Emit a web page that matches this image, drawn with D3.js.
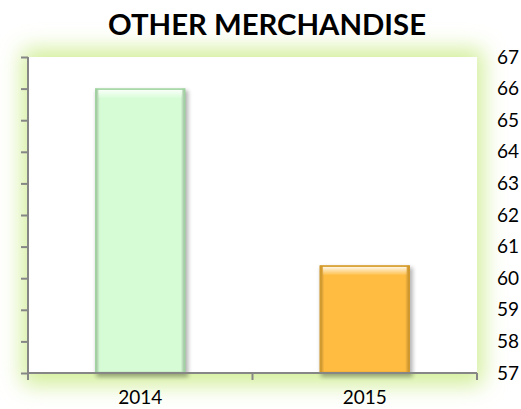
<!DOCTYPE html>
<html><head><meta charset="utf-8">
<script src="https://cdn.jsdelivr.net/npm/d3@7"></script>
<style>html,body{margin:0;padding:0;background:#fff;}svg{display:block;}</style>
</head><body>
<script>
const title = "OTHER MERCHANDISE";
const categories = ["2014", "2015"];
const values = [66.0, 60.4];
const colors = ["#d6fcd6", "#ffbc40"];
const strokes = ["#9fd39f", "#d39a2c"];
const yTicks = [57, 58, 59, 60, 61, 62, 63, 64, 65, 66, 67];

const W = 521, H = 409;
const m = {left: 28, right: 44, top: 57, bottom: 36};
const svg = d3.select("body").append("svg").attr("width", W).attr("height", H);
const defs = svg.append("defs");

const glow = defs.append("filter").attr("id", "glow").attr("x", "-20%").attr("y", "-30%").attr("width", "140%").attr("height", "160%");
glow.append("feGaussianBlur").attr("stdDeviation", 11);
const shadow = defs.append("filter").attr("id", "shadow").attr("x", "-20%").attr("y", "-20%").attr("width", "140%").attr("height", "140%");
shadow.append("feGaussianBlur").attr("stdDeviation", 2);

const hg = defs.append("linearGradient").attr("id", "hedge").attr("x1", 0).attr("x2", 1).attr("y1", 0).attr("y2", 0);
[[0, 0.28], [0.05, 0.0], [0.95, 0.0], [1, 0.28]].forEach(([o, a]) =>
  hg.append("stop").attr("offset", o).attr("stop-color", "#000").attr("stop-opacity", a));
const tg = defs.append("linearGradient").attr("id", "topHi").attr("x1", 0).attr("x2", 0).attr("y1", 0).attr("y2", 1);
[[0, 0.9], [1, 0]].forEach(([o, a]) =>
  tg.append("stop").attr("offset", o).attr("stop-color", "#fff").attr("stop-opacity", a));

const x = d3.scaleBand().domain(categories).range([m.left, W - m.right]).paddingInner(0.6).paddingOuter(0.3);
const y = d3.scaleLinear().domain([57, 67]).range([H - m.bottom, m.top]);

const x0 = m.left, x1 = W - m.right, y0 = m.top, y1 = H - m.bottom;

// glow
svg.append("rect").attr("x", x0 - 6).attr("y", y0 - 8).attr("width", x1 - x0 + 12).attr("height", y1 - y0 + 20)
  .attr("fill", "#d2ee98").attr("filter", "url(#glow)");
svg.append("rect").attr("x", x0).attr("y", y0).attr("width", x1 - x0).attr("height", y1 - y0).attr("fill", "#fff");

// title
svg.append("text").attr("x", 267).attr("y", 35).attr("text-anchor", "middle")
  .attr("font-family", "Lato, 'Open Sans', sans-serif").attr("font-weight", "bold").attr("font-size", 29)
  .attr("textLength", 318).attr("lengthAdjust", "spacingAndGlyphs")
  .attr("fill", "#000").text(title);

// bars
const bars = svg.append("g");
categories.forEach((c, i) => {
  const bx = x(c), bw = x.bandwidth(), by = y(values[i]), bh = y(57) - y(values[i]);
  bars.append("rect").attr("x", bx + 1).attr("y", by + 2).attr("width", bw + 2).attr("height", bh + 2)
    .attr("fill", "#000").attr("opacity", 0.3).attr("filter", "url(#shadow)");
  bars.append("rect").attr("x", bx).attr("y", by).attr("width", bw).attr("height", bh)
    .attr("fill", colors[i]);
  bars.append("rect").attr("x", bx).attr("y", by).attr("width", bw).attr("height", bh)
    .attr("fill", "url(#hedge)");
  bars.append("rect").attr("x", bx + 3).attr("y", by + 1).attr("width", bw - 6).attr("height", 9)
    .attr("fill", "url(#topHi)");
  bars.append("rect").attr("x", bx + 0.5).attr("y", by + 0.5).attr("width", bw - 1).attr("height", bh - 1)
    .attr("fill", "none").attr("stroke", strokes[i]).attr("stroke-width", 1.5);
});

// axes
const axisColor = "#868686";
const yl = svg.append("g").attr("transform", `translate(${x0},0)`)
  .call(d3.axisLeft(y).tickValues(yTicks).tickSize(7).tickFormat(""));
yl.select(".domain").remove();
yl.selectAll("line").attr("stroke", axisColor).attr("stroke-width", 2);
svg.append("line").attr("x1", x0).attr("x2", x0).attr("y1", y0).attr("y2", y1 + 7)
  .attr("stroke", axisColor).attr("stroke-width", 2);

const xb = svg.append("g").attr("transform", `translate(0,${y1})`);
xb.append("line").attr("x1", x0).attr("x2", x1).attr("stroke", axisColor).attr("stroke-width", 2);
const bounds = [x0, (x(categories[0]) + x.bandwidth() + x(categories[1])) / 2, x1];
bounds.forEach(b => xb.append("line").attr("x1", b).attr("x2", b).attr("y1", 0).attr("y2", 7)
  .attr("stroke", axisColor).attr("stroke-width", 2));
categories.forEach(c => xb.append("text").attr("x", x(c) + x.bandwidth() / 2).attr("y", 31)
  .attr("text-anchor", "middle").attr("font-family", "Lato, 'Open Sans', sans-serif").attr("font-size", 19)
  .attr("fill", "#000").text(c));

// right labels
const yr = svg.append("g").attr("transform", `translate(${x1},0)`)
  .call(d3.axisRight(y).tickValues(yTicks).tickSize(0).tickPadding(20).tickFormat(d3.format("d")));
yr.select(".domain").remove();
yr.selectAll("text").attr("font-family", "Lato, 'Open Sans', sans-serif").attr("font-size", 19).attr("fill", "#000");
</script>
</body></html>
